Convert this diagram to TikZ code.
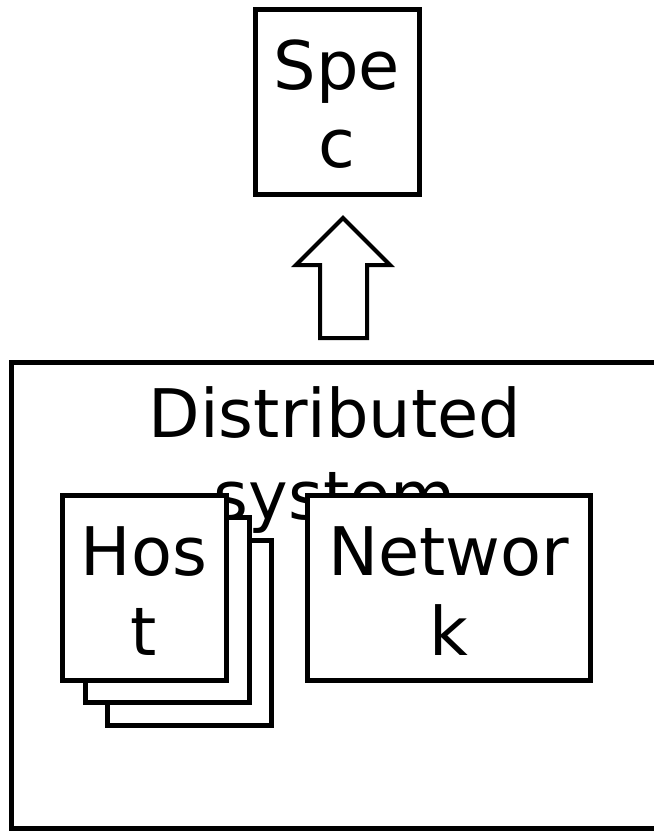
\documentclass[tikz,border=0pt]{standalone}
\usepackage{fontspec}
\setmainfont{DejaVu Sans}
\begin{document}
\begin{tikzpicture}[x=1pt,y=-1pt,
  box/.style={draw, line width=5pt, fill=white, inner sep=0pt, outer sep=0pt},
  txt/.style={font=\fontsize{67}{80}\selectfont, inner sep=0pt, anchor=base},
  card/.style={box, minimum width=164pt, minimum height=185pt}]
\useasboundingbox (0,0) rectangle (654,831);

% specification on top
\node[card] (spec) at (337,101.5) {};
\node[txt] (specA) at (337,89) {Spe};
\node[txt] (specB) at (337,167) {c};

% hollow block arrow pointing up to the specification
\coordinate (tip) at (343,218);
\draw[line width=4pt, fill=white, line join=miter]
  (320,338) -- (320,265) -- (296,265) -- (tip) -- (390,265)
  -- (367,265) -- (367,338) -- cycle;

% the distributed system container
\node[box, anchor=north west, minimum width=648pt, minimum height=466pt] (sys) at (11,362) {};
\node[txt] (titleA) at (335,437) {Distributed};
\node[txt] (titleB) at (335,519) {system};

% stacked hosts
\node[card] (host3) at (189,633) {};
\node[card] (host2) at (167,610) {};
\node[card] (host1) at (144,587.5) {};
\node[txt] (hostA) at (144,575) {Hos};
\node[txt] (hostB) at (144,655) {t};

% network
\node[card, minimum width=283pt] (net) at (448.5,587.5) {};
\node[txt] (netA) at (448.5,575) {Networ};
\node[txt] (netB) at (448.5,655) {k};
\end{tikzpicture}
\end{document}
